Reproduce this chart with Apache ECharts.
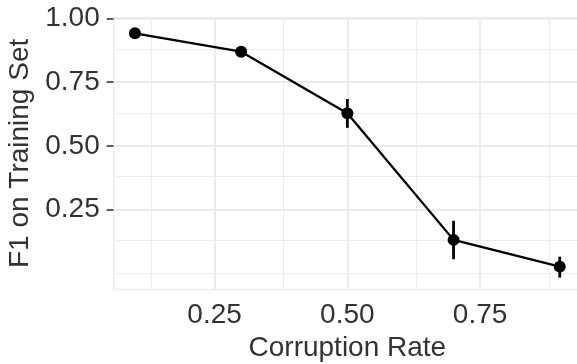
<!DOCTYPE html>
<html>
<head>
<meta charset="utf-8">
<script src="https://cdn.jsdelivr.net/npm/echarts@6/dist/echarts.min.js"></script>
<style>html,body{margin:0;padding:0;background:#fff}#c{width:577px;height:364px}</style>
</head>
<body>
<div id="c"></div>
<script>
const rates = [0.1, 0.3, 0.5, 0.7, 0.9];
const f1 = [0.942, 0.870, 0.628, 0.131, 0.026];
const f1Low = [0.936, 0.864, 0.571, 0.055, -0.017];
const f1High = [0.948, 0.876, 0.684, 0.206, 0.065];
const xTicks = [0.25, 0.5, 0.75];
const yTicks = [0.25, 0.5, 0.75, 1.0];
const xMinor = [0.125, 0.375, 0.625, 0.875];
const yMinor = [0, 0.125, 0.375, 0.625, 0.875];

const gridColor = '#EBEBEB';
const textColor = '#333333';
const fontFamily = 'Liberation Sans, Arial, sans-serif';

function vLines(vals, w) { return vals.map(v => ({ xAxis: v, lineStyle: { color: gridColor, width: w, type: 'solid' } })); }
function hLines(vals, w) { return vals.map(v => ({ yAxis: v, lineStyle: { color: gridColor, width: w, type: 'solid' } })); }

const chart = echarts.init(document.getElementById('c'), null, { renderer: 'canvas' });
chart.setOption({
  animation: false,
  backgroundColor: '#ffffff',
  grid: { left: 113.7, right: -4, top: 17.5, bottom: 74.7, show: true, borderColor: gridColor, borderWidth: 1.2, containLabel: false, outerBoundsMode: 'none' },
  xAxis: {
    type: 'value', min: 0.06, max: 0.94,
    name: 'Corruption Rate', nameLocation: 'middle', nameGap: 45,
    nameTextStyle: { fontSize: 28, color: textColor, fontFamily: fontFamily },
    axisLine: { show: false },
    axisTick: { show: true, length: 7, customValues: xTicks, lineStyle: { color: '#333', width: 1.6 } },
    axisLabel: { customValues: xTicks, margin: 12, fontSize: 28, color: textColor, fontFamily: fontFamily, formatter: v => v.toFixed(2) },
    splitLine: { show: false }
  },
  yAxis: {
    type: 'value', min: -0.063, max: 1.004,
    name: 'F1 on Training Set', nameLocation: 'middle', nameGap: 79,
    nameTextStyle: { fontSize: 28, color: textColor, fontFamily: fontFamily },
    axisLine: { show: false },
    axisTick: { show: true, length: 7, customValues: yTicks, lineStyle: { color: '#333', width: 1.6 } },
    axisLabel: { customValues: yTicks, margin: 14, fontSize: 28, color: textColor, fontFamily: fontFamily, formatter: v => v.toFixed(2) },
    splitLine: { show: false }
  },
  series: [
    {
      type: 'scatter', data: [], silent: true, z: 1,
      markLine: {
        silent: true, z: 1, symbol: ['none', 'none'], animation: false, label: { show: false },
        data: [].concat(vLines(xMinor, 1.1), hLines(yMinor, 1.1), vLines(xTicks, 2), hLines(yTicks, 2))
      }
    },
    {
      type: 'custom', z: 3,
      data: rates.map((x, i) => [x, f1Low[i], f1High[i]]),
      renderItem: function (params, api) {
        const lo = api.coord([api.value(0), api.value(1)]);
        const hi = api.coord([api.value(0), api.value(2)]);
        return { type: 'line', shape: { x1: lo[0], y1: lo[1], x2: hi[0], y2: hi[1] }, style: { stroke: '#000', lineWidth: 2.8 } };
      }
    },
    {
      type: 'line', z: 4,
      data: rates.map((x, i) => [x, f1[i]]),
      symbol: 'circle', symbolSize: 12,
      itemStyle: { color: '#000' },
      lineStyle: { color: '#000', width: 2.3 }
    }
  ]
});
</script>
</body>
</html>
